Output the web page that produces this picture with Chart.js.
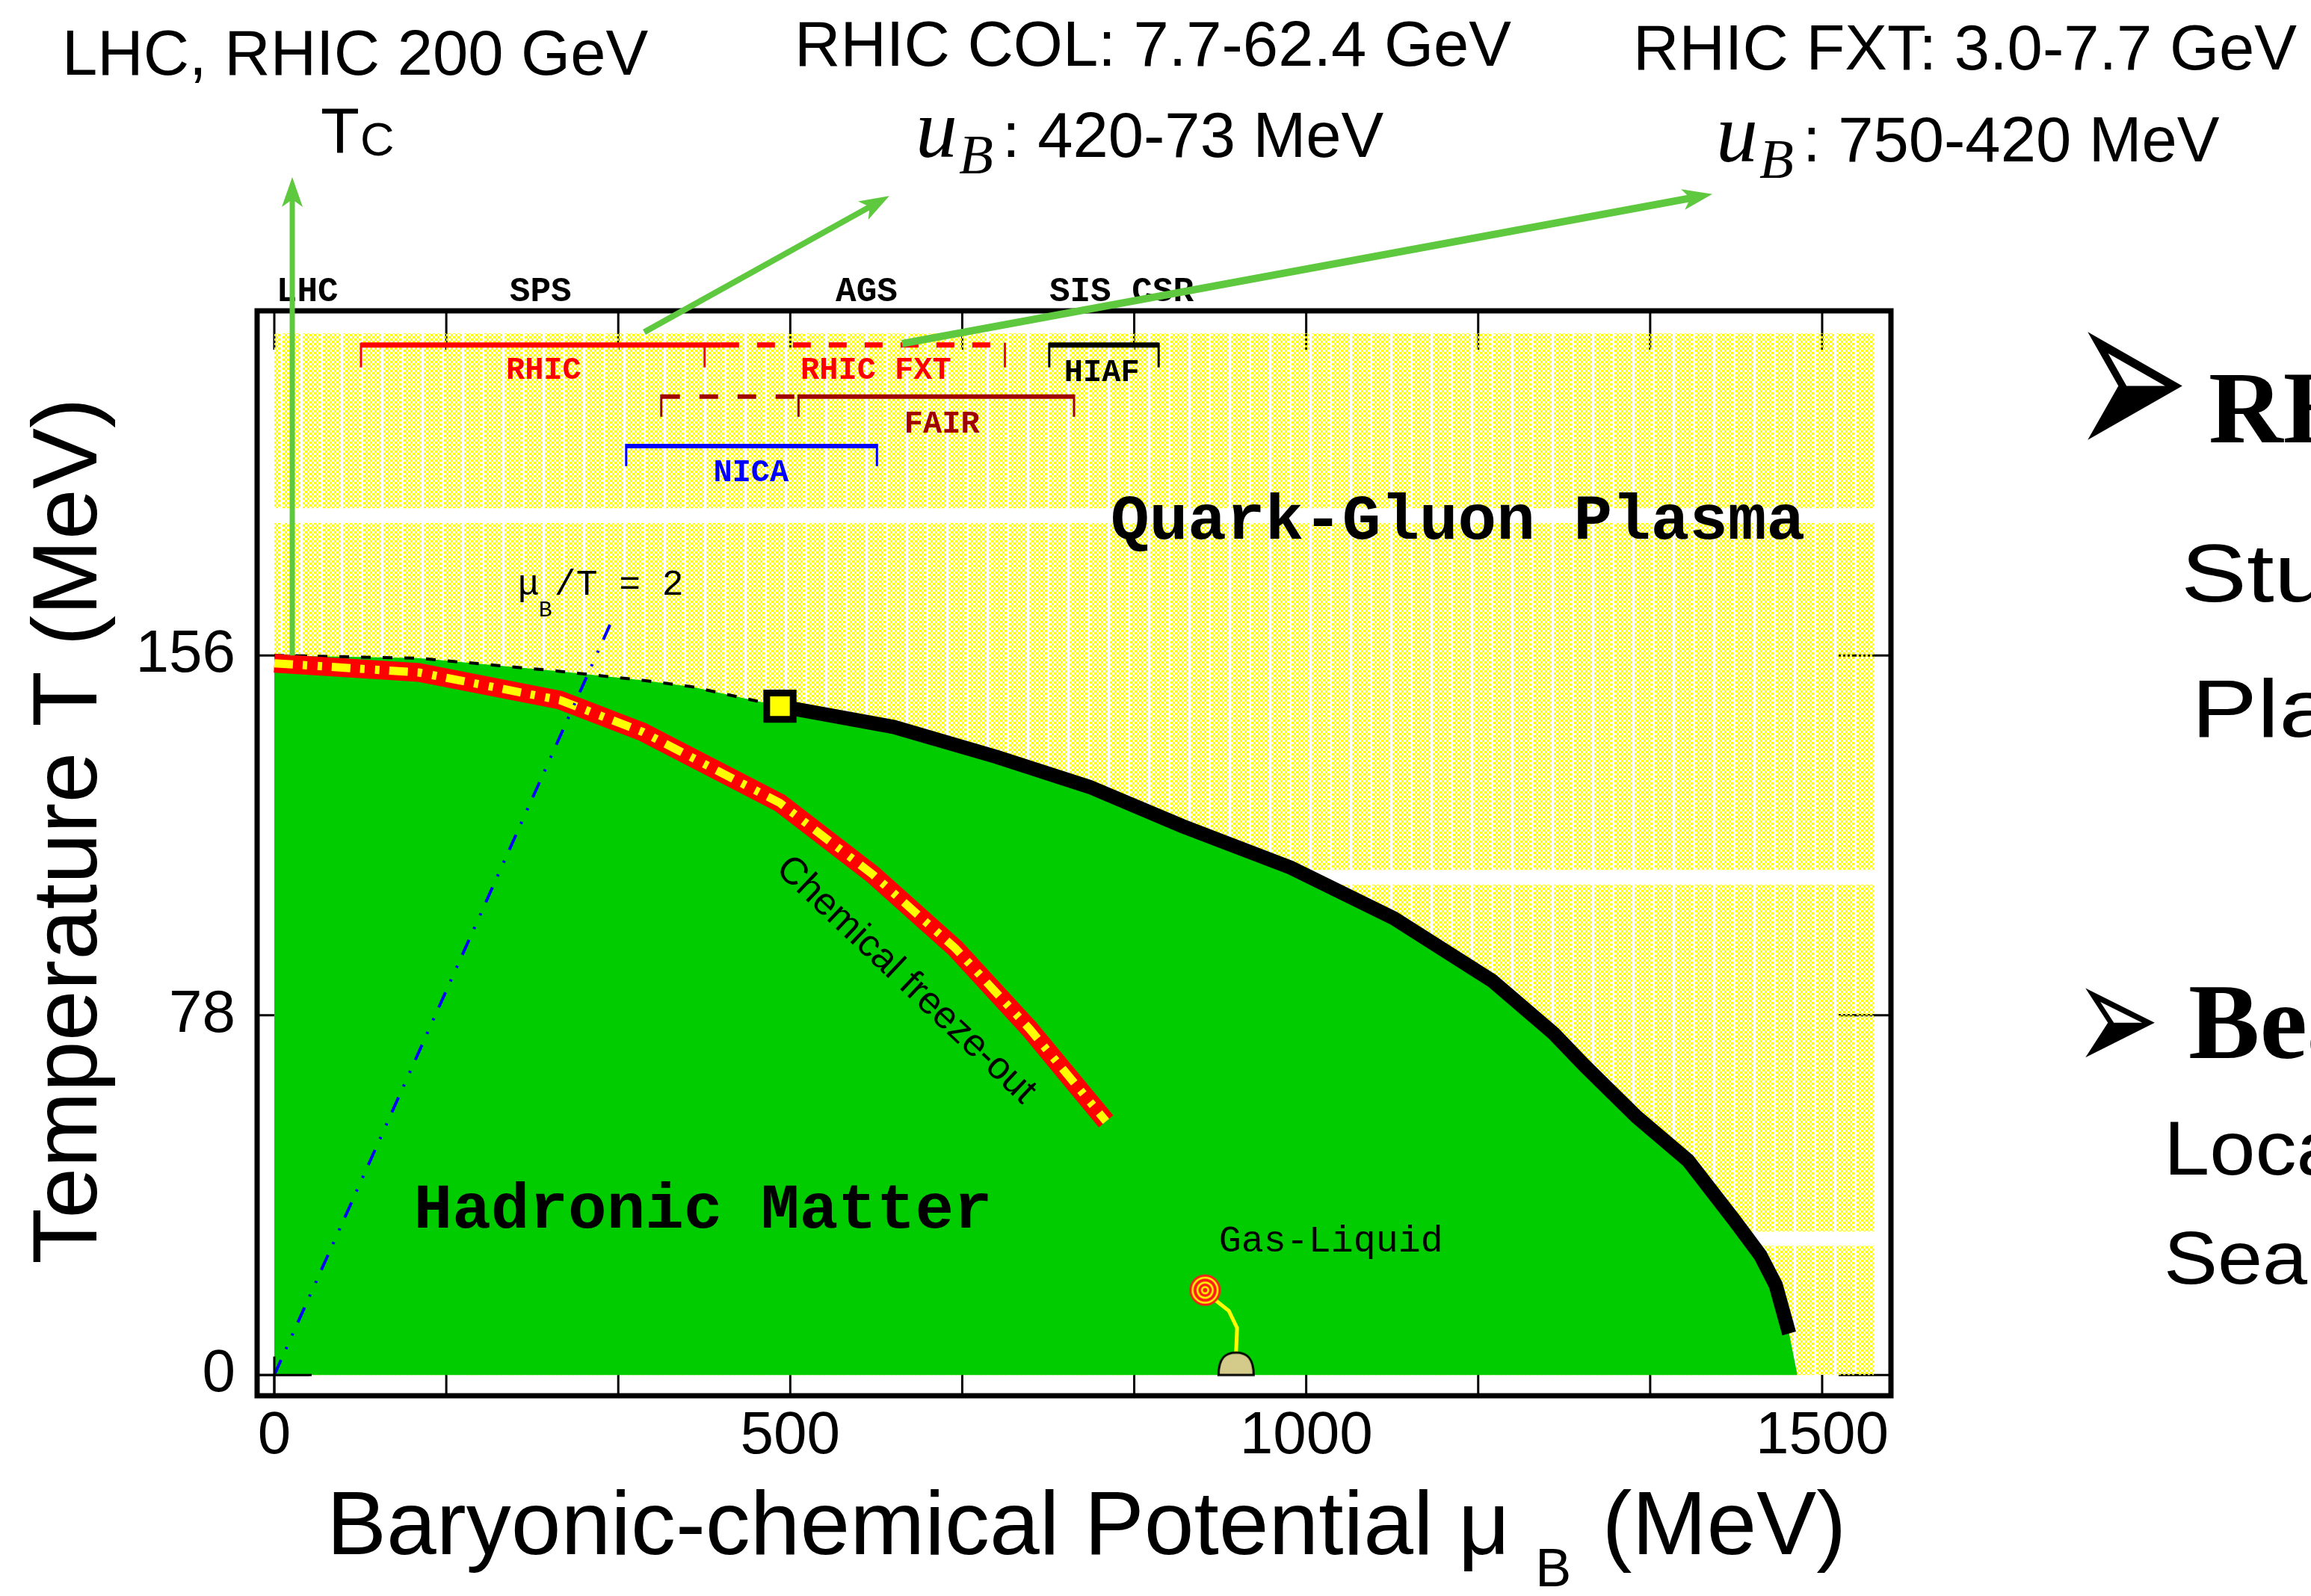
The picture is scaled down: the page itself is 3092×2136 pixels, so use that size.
<!DOCTYPE html>
<html>
<head>
<meta charset="utf-8">
<title>QCD phase diagram</title>
<script src="https://cdn.jsdelivr.net/npm/chart.js@4.4.1/dist/chart.umd.min.js"></script>
<style>
  html, body { margin: 0; padding: 0; background: #fff; overflow: hidden; }
  canvas { display: block; }
</style>
</head>
<body>
<canvas id="phase" width="3092" height="2136" style="width:3092px;height:2136px"></canvas>
<script>
// ---- axis ranges and tick values (MeV) ----
const muRange = [-16.67, 1566.67];
const tempRange = [-4.5, 230.7];
const muTicks = [0, 500, 1000, 1500];
const tempTicks = [0, 78, 156];
const muMinorStep = 500 / 3;

// crossover: from muB = 0 to the critical point
const crossoverMu = [0, 140, 275, 357, 405, 490];
const crossoverT  = [156, 155.4, 152.6, 150.6, 149.2, 145];

// first-order transition line from the critical point down towards T = 0
const transitionMu = [490, 600, 700, 790, 880, 985, 1085, 1180, 1240, 1270, 1320, 1370, 1415, 1440, 1455, 1468];
const transitionT  = [145, 140.5, 134, 127.5, 119, 110, 99, 85.5, 74, 67, 56, 46.5, 33.5, 26, 19.5, 9];
const hadronEdgeMu = [1476];
const hadronEdgeT  = [0];

// chemical freeze-out curve
const freezeMu = [0, 140, 277, 357, 490, 580, 660, 732, 806];
const freezeT  = [154.3, 152.3, 146.3, 139.4, 124, 108.5, 92.5, 75, 55];

// muB / T = 2
const ratioMu = [0, 330];
const ratioT  = [0, 165];

// critical point
const criticalMu = [490];
const criticalT  = [145];

// nuclear liquid-gas transition
const liquidGasMu = [902];
const liquidGasT  = [18.4];
const stemMu = [911, 925, 933, 932];
const stemT  = [16.4, 13.9, 10.2, 4.8];
const baseMu = [932];
const baseT  = [0];

// quark-gluon plasma region, drawn as stacked tiles
const qgpMuMax = 1550;
const qgpTileLow  = [0, 31.1, 109.5, 187.9];
const qgpTileHigh = [28.0, 106.3, 184.7, 225.8];

// facility coverage in muB (MeV)
const rhicColRange = [84, 433];
const rhicColEdge  = 417;
const rhicFxtRange = [433, 708];
const hiafRange    = [751, 857];
const fairLowRange = [375, 508];
const fairRange    = [508, 775];
const nicaRange    = [341, 584];
const barRowT      = [223.3, 212.1, 201.4];

// accelerators named above the frame
const acceleratorNames = ['LHC', 'SPS', 'AGS', 'SIS CSR'];
const acceleratorMu    = [32, 258, 574, 821];

// pointers from the diagram to the headline notes
const pointerFromMu = [17.4, 358.5, 608.4];
const pointerFromT  = [156, 226.1, 223.6];
const pointerToMu   = [17.4, 596, 1393.6];
const pointerToT    = [259.7, 255.6, 256];

const pts = (xs, ys) => xs.map((v, i) => ({ x: v, y: ys[i] }));

const SANS = '"Liberation Sans", Arial, Helvetica, sans-serif';
const MONO = '"Liberation Mono", "Courier New", monospace';
const SERIF = '"Liberation Serif", "Times New Roman", serif';

function hatchTile() {
  const c = document.createElement('canvas');
  c.width = 27; c.height = 6;
  const g = c.getContext('2d');
  g.fillStyle = '#ffff00';
  for (let i = 0; i < 8; i++)
    for (let j = 0; j < 2; j++)
      if ((i + j) % 2 === 0) g.fillRect(i * 3, j * 3, 3, 3);
  return c;
}

function targetIcon() {
  const c = document.createElement('canvas');
  c.width = 46; c.height = 46;
  const g = c.getContext('2d');
  const rings = [[21, '#ff1a1a'], [18, '#ffff00'], [15.5, '#ff1a1a'], [11.5, '#ffff00'], [9, '#ff1a1a'], [5.5, '#ffff00'], [3, '#ff1a1a']];
  rings.forEach(([r, col]) => { g.beginPath(); g.arc(23, 23, r, 0, Math.PI * 2); g.fillStyle = col; g.fill(); });
  return c;
}

function domeIcon() {
  const c = document.createElement('canvas');
  c.width = 56; c.height = 70;
  const g = c.getContext('2d');
  g.beginPath();
  g.moveTo(4.5, 35);
  g.bezierCurveTo(4.5, 12, 14, 5, 28, 5);
  g.bezierCurveTo(42, 5, 51.5, 12, 51.5, 35);
  g.closePath();
  g.fillStyle = '#d4cb8a';
  g.fill();
  g.lineWidth = 3;
  g.strokeStyle = '#000';
  g.stroke();
  return c;
}

function seg(ctx, x0, y0, x1, y1) {
  ctx.beginPath(); ctx.moveTo(x0, y0); ctx.lineTo(x1, y1); ctx.stroke();
}

function label(ctx, s, x, y, font, color, align) {
  ctx.font = font;
  ctx.fillStyle = color || '#000';
  ctx.textAlign = align || 'left';
  ctx.textBaseline = 'alphabetic';
  ctx.fillText(s, x, y);
}

function stretched(ctx, s, x, y, font, sx) {
  ctx.save();
  ctx.translate(x, y);
  ctx.scale(sx, 1);
  label(ctx, s, 0, 0, font, '#000', 'left');
  ctx.restore();
}

function fitGlyph(ctx, ch, family, x0, y0, x1, y1) {
  ctx.save();
  ctx.font = '100px ' + family;
  ctx.textAlign = 'left';
  ctx.textBaseline = 'alphabetic';
  const m = ctx.measureText(ch);
  const gw = m.actualBoundingBoxLeft + m.actualBoundingBoxRight;
  const gh = m.actualBoundingBoxAscent + m.actualBoundingBoxDescent;
  ctx.translate(x0, y0);
  ctx.scale((x1 - x0) / gw, (y1 - y0) / gh);
  ctx.fillStyle = '#000';
  ctx.fillText(ch, m.actualBoundingBoxLeft, m.actualBoundingBoxAscent);
  ctx.restore();
}

function pointer(ctx, x0, y0, x1, y1, w) {
  const ang = Math.atan2(y1 - y0, x1 - x0);
  const c = Math.cos(ang), s = Math.sin(ang);
  const L = 40, H = 14;
  ctx.lineWidth = w;
  ctx.lineCap = 'butt';
  seg(ctx, x0, y0, x1 - c * L * 0.7, y1 - s * L * 0.7);
  ctx.beginPath();
  ctx.moveTo(x1, y1);
  ctx.lineTo(x1 - c * L - s * H, y1 - s * L + c * H);
  ctx.lineTo(x1 - c * L * 0.75, y1 - s * L * 0.75);
  ctx.lineTo(x1 - c * L + s * H, y1 - s * L - c * H);
  ctx.closePath();
  ctx.fill();
}

const decor = {
  id: 'decor',
  beforeDatasetsDraw(chart) {
    const { ctx, chartArea: a, scales: { x, y } } = chart;
    const X = v => x.getPixelForValue(v), Y = v => y.getPixelForValue(v);
    ctx.save();
    // tick marks along the frame
    ctx.strokeStyle = '#000';
    ctx.lineWidth = 3;
    for (let i = 0; i <= 9; i++) {
      const px = X(i * muMinorStep);
      seg(ctx, px, a.top, px, a.top + 52);
      seg(ctx, px, a.bottom, px, a.bottom - 28);
    }
    tempTicks.forEach(t => {
      const py = Y(t);
      seg(ctx, a.left, py, a.left + 70, py);
      seg(ctx, a.right, py, a.right - 70, py);
    });
    // quark-gluon plasma hatch
    ctx.fillStyle = ctx.createPattern(hatchTile(), 'repeat');
    for (let i = 0; i < qgpTileLow.length; i++) {
      const x0 = X(0), x1 = X(qgpMuMax);
      const y0 = Y(qgpTileHigh[i]), y1 = Y(qgpTileLow[i]);
      ctx.fillRect(x0, y0, x1 - x0, y1 - y0);
    }
    ctx.restore();
  },
  afterDatasetsDraw(chart) {
    const { ctx, chartArea: a, scales: { x, y } } = chart;
    const X = v => x.getPixelForValue(v), Y = v => y.getPixelForValue(v);
    ctx.save();
    // frame
    ctx.strokeStyle = '#000';
    ctx.lineWidth = 7;
    ctx.strokeRect(a.left, a.top, a.right - a.left, a.bottom - a.top);
    ctx.lineWidth = 3;
    seg(ctx, a.left, Y(0), X(0) + 50, Y(0));
    seg(ctx, X(0), a.bottom, X(0), Y(4));

    // facility bars
    const bar = (range, T, color, width, dash) => {
      ctx.strokeStyle = color; ctx.lineWidth = width; ctx.setLineDash(dash || []);
      seg(ctx, X(range[0]), Y(T), X(range[1]), Y(T));
      ctx.setLineDash([]);
    };
    const drop = (mu, T, len, color) => {
      ctx.strokeStyle = color; ctx.lineWidth = 3;
      seg(ctx, X(mu), Y(T) - 3, X(mu), Y(T) + len);
    };
    const RED = '#ff0000', DARK = '#a00000', BLUE = '#0000ff', BLACK = '#000';
    bar(rhicColRange, barRowT[0], RED, 7);
    drop(rhicColRange[0], barRowT[0], 30, RED);
    drop(rhicColEdge, barRowT[0], 30, RED);
    bar(rhicFxtRange, barRowT[0], RED, 7, [24, 24]);
    drop(rhicFxtRange[1], barRowT[0], 30, RED);
    bar(hiafRange, barRowT[0], BLACK, 7);
    drop(hiafRange[0], barRowT[0], 30, BLACK);
    drop(hiafRange[1], barRowT[0], 30, BLACK);
    bar(fairLowRange, barRowT[1], DARK, 6, [25, 26]);
    drop(fairLowRange[0], barRowT[1], 27, DARK);
    bar(fairRange, barRowT[1], DARK, 6);
    drop(fairRange[0], barRowT[1], 27, DARK);
    drop(fairRange[1], barRowT[1], 27, DARK);
    bar(nicaRange, barRowT[2], BLUE, 6);
    drop(nicaRange[0], barRowT[2], 27, BLUE);
    drop(nicaRange[1], barRowT[2], 27, BLUE);

    const tagFont = 'bold 42px ' + MONO;
    label(ctx, 'RHIC', X(261), Y(215.9), tagFont, RED, 'center');
    label(ctx, 'RHIC FXT', X(583), Y(215.9), tagFont, RED, 'center');
    label(ctx, 'HIAF', X(802), Y(215.4), tagFont, BLACK, 'center');
    label(ctx, 'FAIR', X(647), Y(204.3), tagFont, DARK, 'center');
    label(ctx, 'NICA', X(462), Y(193.8), tagFont, BLUE, 'center');

    // accelerator names above the frame
    acceleratorNames.forEach((n, i) => label(ctx, n, X(acceleratorMu[i]), Y(232.8), 'bold 46px ' + MONO, '#000', 'center'));

    // region labels
    label(ctx, 'Quark-Gluon Plasma', X(1147), Y(181.3), 'bold 86px ' + MONO, '#000', 'center');
    label(ctx, 'Hadronic Matter', X(415.5), Y(31.9), 'bold 86px ' + MONO, '#000', 'center');
    label(ctx, 'Gas-Liquid', X(1024), Y(26.7), '50px ' + MONO, '#000', 'center');

    // muB/T = 2 label
    const rx = X(236), ry = Y(169.1);
    label(ctx, 'μ', rx, ry, '48px ' + MONO, '#000', 'left');
    label(ctx, 'B', rx + 28, ry + 29, '30px ' + MONO, '#000', 'left');
    label(ctx, '/T = 2', rx + 49, ry, '48px ' + MONO, '#000', 'left');

    // freeze-out label along the curve
    ctx.save();
    ctx.translate(X(611.9), Y(85.6));
    ctx.rotate(43.4 * Math.PI / 180);
    ctx.font = '51px ' + SANS;
    ctx.fillStyle = '#000';
    ctx.textAlign = 'center';
    ctx.textBaseline = 'middle';
    ctx.fillText('Chemical freeze-out', 0, 0);
    ctx.restore();
    ctx.restore();
  },
  afterDraw(chart) {
    const { ctx, scales: { x, y } } = chart;
    const X = v => x.getPixelForValue(v), Y = v => y.getPixelForValue(v);
    ctx.save();
    // green pointers
    ctx.strokeStyle = '#5ec83e';
    ctx.fillStyle = '#5ec83e';
    const widths = [7, 8, 10];
    for (let i = 0; i < pointerFromMu.length; i++) {
      pointer(ctx, X(pointerFromMu[i]), Y(pointerFromT[i]), X(pointerToMu[i]), Y(pointerToT[i]), widths[i]);
    }

    // axis titles
    ctx.save();
    ctx.translate(129, 1112);
    ctx.rotate(-Math.PI / 2);
    label(ctx, 'Temperature T (MeV)', 0, 0, '122px ' + SANS, '#000', 'center');
    ctx.restore();
    ctx.font = '120px ' + SANS;
    const t1 = 'Baryonic-chemical Potential ';
    label(ctx, t1, 437, 2080, '120px ' + SANS);
    let cx = 437 + ctx.measureText(t1).width;
    label(ctx, 'μ', cx, 2080, '120px ' + SANS);
    cx += ctx.measureText('μ').width + 34;
    label(ctx, 'B', cx, 2123, '72px ' + SANS);
    cx += ctx.measureText('B').width + 8;
    label(ctx, ' (MeV)', cx, 2080, '120px ' + SANS);

    // headline notes
    const H = '85px ' + SANS;
    label(ctx, 'LHC, RHIC 200 GeV', 83, 100, H);
    label(ctx, 'T', 429, 204, H);
    label(ctx, 'C', 482, 208, '63px ' + SANS);
    label(ctx, 'RHIC COL: 7.7-62.4 GeV', 1063, 88, H);
    label(ctx, 'u', 1225, 210, 'italic 112px ' + SERIF);
    label(ctx, 'B', 1283, 232, 'italic 75px ' + SERIF);
    label(ctx, ': 420-73 MeV', 1341, 210, H);
    label(ctx, 'RHIC FXT: 3.0-7.7 GeV', 2185, 93, H);
    label(ctx, 'u', 2296, 216, 'italic 112px ' + SERIF);
    label(ctx, 'B', 2354, 238, 'italic 75px ' + SERIF);
    label(ctx, ': 750-420 MeV', 2412, 216, H);

    // slide notes on the right
    fitGlyph(ctx, '➢', '"DejaVu Sans"', 2793, 442, 2920, 590);
    label(ctx, 'RHIC', 2955, 592, 'bold 138px ' + SERIF);
    stretched(ctx, 'Study', 2918, 805, '110px ' + SANS, 1.2);
    stretched(ctx, 'Plasma', 2932, 986, '110px ' + SANS, 1.2);
    fitGlyph(ctx, '➢', '"DejaVu Sans"', 2790, 1321, 2883, 1416);
    label(ctx, 'Beam', 2928, 1416, 'bold 143px ' + SERIF);
    stretched(ctx, 'Locate', 2895, 1572, '102px ' + SANS, 1.08);
    stretched(ctx, 'Search', 2895, 1718, '100px ' + SANS, 1.08);
    ctx.restore();
  }
};

const greenEdge = pts(crossoverMu, crossoverT)
  .concat(pts(transitionMu.slice(1), transitionT.slice(1)))
  .concat(pts(hadronEdgeMu, hadronEdgeT));

new Chart(document.getElementById('phase'), {
  type: 'line',
  data: {
    datasets: [
      { label: 'Critical point', data: pts(criticalMu, criticalT), showLine: false,
        pointStyle: 'rect', pointRadius: 25, pointBackgroundColor: '#ffff00',
        pointBorderColor: '#000', pointBorderWidth: 9, order: 0 },
      { label: 'Liquid-gas point', data: pts(liquidGasMu, liquidGasT), showLine: false,
        pointStyle: targetIcon(), pointRadius: 20, order: 0 },
      { label: 'Liquid-gas base', data: pts(baseMu, baseT), showLine: false,
        pointStyle: domeIcon(), pointRadius: 20, order: 0 },
      { label: 'muB/T = 2', data: pts(ratioMu, ratioT), borderColor: '#0000ff', borderWidth: 4,
        borderDash: [22, 16, 3, 17, 3, 16], pointRadius: 0, order: 1 },
      { label: 'Freeze-out core', data: pts(freezeMu, freezeT), borderColor: '#ffff00', borderWidth: 11,
        borderDash: [25, 13, 6, 14, 6, 13], pointRadius: 0, order: 2 },
      { label: 'Chemical freeze-out', data: pts(freezeMu, freezeT), borderColor: '#ff0000', borderWidth: 25,
        pointRadius: 0, order: 3 },
      { label: 'Liquid-gas stem', data: pts(stemMu, stemT), borderColor: '#ffff00', borderWidth: 5,
        pointRadius: 0, order: 3 },
      { label: 'First-order transition', data: pts(transitionMu, transitionT), borderColor: '#000',
        borderWidth: 19, pointRadius: 0, order: 4 },
      { label: 'Crossover', data: pts(crossoverMu, crossoverT), borderColor: '#000', borderWidth: 4,
        borderDash: [13, 16], pointRadius: 0, order: 5 },
      { label: 'Hadronic matter', data: greenEdge, fill: 'origin', backgroundColor: '#00cc00',
        borderColor: 'rgba(0,0,0,0)', borderWidth: 1, pointRadius: 0, order: 9 }
    ]
  },
  options: {
    responsive: false,
    maintainAspectRatio: false,
    animation: false,
    devicePixelRatio: 1,
    events: [],
    layout: { padding: { top: 416, right: 562, bottom: 0, left: 0 } },
    elements: { line: { tension: 0 } },
    plugins: { legend: { display: false }, tooltip: { enabled: false } },
    scales: {
      x: {
        type: 'linear', min: muRange[0], max: muRange[1],
        afterBuildTicks: s => { s.ticks = muTicks.map(v => ({ value: v })); },
        afterFit: s => { s.height = 268; },
        grid: { display: false, drawTicks: false },
        border: { display: false },
        ticks: { autoSkip: false, maxRotation: 0, padding: 7, color: '#000',
                 font: { family: SANS, size: 80 }, callback: v => String(v) }
      },
      y: {
        type: 'linear', min: tempRange[0], max: tempRange[1],
        afterBuildTicks: s => { s.ticks = tempTicks.map(v => ({ value: v })); },
        afterFit: s => { s.width = 344; },
        grid: { display: false, drawTicks: false },
        border: { display: false },
        ticks: { autoSkip: false, padding: 29, color: '#000',
                 font: { family: SANS, size: 80 }, callback: v => String(v) }
      }
    }
  },
  plugins: [decor]
});
</script>
</body>
</html>
